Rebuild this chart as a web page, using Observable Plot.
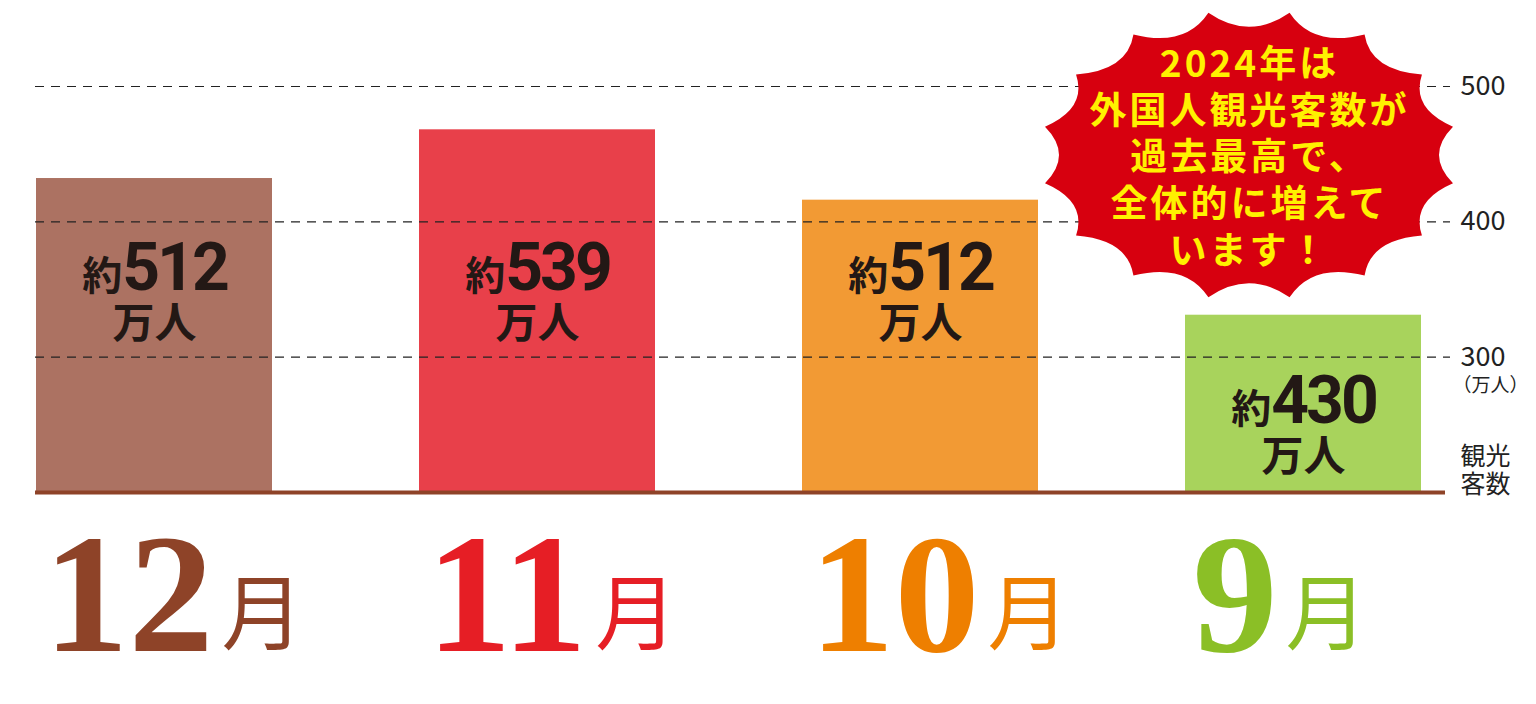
<!DOCTYPE html>
<html><head><meta charset="utf-8">
<script src="https://cdn.jsdelivr.net/npm/d3@7"></script>
<script src="https://cdn.jsdelivr.net/npm/@observablehq/plot@0.6"></script>
<style>html,body{margin:0;padding:0;background:#fff;} #chart{width:1536px;height:704px;overflow:hidden}</style>
</head><body><div id="chart"></div>
<script>
// ---- data ----
const months = ["12月", "11月", "10月", "9月"];
const barTops = [432, 468, 416, 331];          // bar heights as drawn against the axis (万人)
const visitorLabels = [512, 539, 512, 430];    // printed labels (約…万人)
const barColors = ["#AC7262", "#E8404A", "#F29A34", "#A8D35C"];
const monthColors = ["#8E4328", "#E61E25", "#EE7F00", "#8BBF26"];
const yTicks = [300, 400, 500];
const yUnit = "（万人）";
const yTitle = "観光\n客数";
const unitLabel = "万人";
const burstLines = ["2024年は", "外国人観光客数が", "過去最高で、", "全体的に増えて", "います！"];

const rows = months.map((m, i) => ({month: m, top: barTops[i], label: visitorLabels[i], fill: barColors[i], color: monthColors[i]}));
const labelY = d => d.top < 350 ? d.top - 80 : 350;

const CJK = "'Noto Sans CJK JP', 'Noto Sans', sans-serif";

function burst(index, scales) {
  const sx = scales.x, sy = scales.y;
  const bw = sx.bandwidth ? sx.bandwidth() : 236;
  const cx = sx("9月") + bw / 2 - 54;
  const cy = sy(449);
  const rx = 208, ry = 145, n = 16, depth = 28;
  const pts = d3.range(n).map(k => {
    const a = (k + 0.5) * 2 * Math.PI / n;
    return [cx + rx * Math.sin(a), cy - ry * Math.cos(a)];
  });
  let p = `M${pts[0][0]},${pts[0][1]}`;
  for (let k = 0; k < n; k++) {
    const a = pts[k], b = pts[(k + 1) % n];
    const mx = (a[0] + b[0]) / 2, my = (a[1] + b[1]) / 2;
    let vx = cx - mx, vy = cy - my;
    const L = Math.hypot(vx, vy); vx /= L; vy /= L;
    p += `Q${mx + vx * depth},${my + vy * depth} ${b[0]},${b[1]}`;
  }
  p += "Z";
  return d3.create("svg:path").attr("d", p).attr("fill", "#D7000F").node();
}

const svg = Plot.plot({
  width: 1536,
  height: 704,
  marginLeft: 35,
  marginRight: 86,
  marginTop: 86,
  marginBottom: 212,
  style: {fontFamily: CJK, background: "white", overflow: "visible"},
  x: {type: "band", domain: months, range: [35, 1421], paddingInner: 0.384, paddingOuter: 0, axis: null},
  y: {domain: [200, 500], axis: null},
  marks: [
    Plot.barY(rows, {x: "month", y1: 200, y2: "top", fill: "fill"}),
    Plot.ruleY(yTicks, {stroke: "#222", strokeWidth: 1.2, strokeDasharray: "9,7"}),
    Plot.ruleY([200], {stroke: "#8E4328", strokeWidth: 4, insetRight: 5}),
    Plot.axisY(yTicks, {anchor: "right", tickSize: 0, tickPadding: 10, fontSize: 27, label: null, fill: "#222", tickFormat: d => String(d)}),
    Plot.text([yUnit], {frameAnchor: "right", y: () => 300, dy: 29, dx: 2, textAnchor: "start", fontSize: 19, fill: "#222"}),
    Plot.text([yTitle], {frameAnchor: "bottom-right", dx: 10, dy: 0, textAnchor: "start", lineAnchor: "bottom", fontSize: 25, lineHeight: 1.12, fill: "#222"}),
    Plot.text(rows, {x: "month", y: labelY, text: d => "約" + d.label, lineAnchor: "bottom", fontSize: 66, fontWeight: 700, fill: "#231815"}),
    Plot.text(rows, {x: "month", y: () => 200, text: "month", lineAnchor: "bottom", dy: 158, dx: -111, textAnchor: "start", fontSize: 170, fill: "color"}),
    burst,
    Plot.text([{month: "9月", t: burstLines.join("\n")}], {x: "month", y: () => 449, dx: -54, text: "t", fontSize: 37, fontWeight: 700, lineHeight: 1.26, fill: "#FFF100"})
  ]
});

d3.select(svg).selectAll("text").each(function () {
  const t = this.textContent;
  let m;
  const sel = d3.select(this);
  if ((m = t.match(/^(\d+)(月)$/))) {
    this.textContent = "";
    sel.append("tspan").attr("font-family", "'Liberation Serif', 'DejaVu Serif', serif").attr("font-weight", "bold").attr("font-size", 170).text(m[1]);
    sel.append("tspan").attr("font-family", CJK).attr("font-weight", 400).attr("font-size", 82).attr("dx", 8).attr("dy", -8).text(m[2]);
  } else if ((m = t.match(/^(約)(\d+)$/))) {
    this.textContent = "";
    const x0 = this.getAttribute("x") || 0;
    sel.append("tspan").attr("font-family", CJK).attr("font-weight", 700).attr("font-size", 40).text(m[1]);
    sel.append("tspan").attr("font-family", "Roboto, sans-serif").attr("font-weight", 700).attr("font-size", 66).attr("letter-spacing", -3).text(m[2]);
    sel.append("tspan").attr("x", x0).attr("dy", 48).attr("font-family", CJK).attr("font-weight", 700).attr("font-size", 42).text(unitLabel);
  } else if (t.includes("2024")) {
    sel.attr("letter-spacing", 3);
  }
});

document.getElementById("chart").appendChild(svg);
</script></body></html>
